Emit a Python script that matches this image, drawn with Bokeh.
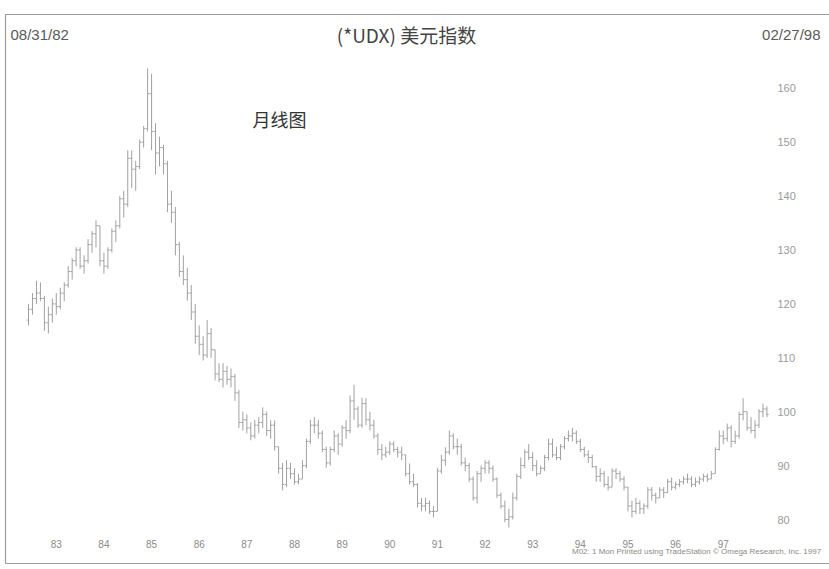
from bokeh.plotting import figure
from bokeh.models import Range1d, ColumnDataSource
from bokeh.core.properties import value
from bokeh.embed import file_html
from bokeh.resources import INLINE

# ---- data: US Dollar Index (*UDX) monthly bars, Aug 1982 .. Feb 1998 ----
start_label = "08/31/82"
end_label = "02/27/98"

opens = [
    117, 119, 121, 122, 121,
    116.5, 118, 120, 119.5, 122, 123.5, 126, 128, 130, 127, 128, 131,
    133, 134.5, 128, 127, 130, 133.5, 134.5, 139.5, 138.5, 147, 145, 145.5,
    150, 152.5, 159, 152, 148, 149, 146, 138.5, 137, 131, 126, 124.5,
    122, 118.5, 114, 112.5, 110.5, 114.5, 111.5, 107, 106, 107.5, 106, 106.5,
    103.5, 98, 98.5, 97, 95.5, 97.5, 98, 99.5, 96.5, 97.5, 93.5, 89.5,
    86.5, 89.5, 88.5, 87, 87.5, 90, 94.5, 97.5, 97.5, 96, 93, 90.5,
    93, 95.5, 94, 97, 96.5, 102, 100.5, 97.5, 101.5, 98.5, 97.5, 95.5,
    93, 92, 92.5, 94, 93, 92.5, 92, 88.5, 87, 86.5, 83, 82.5,
    83, 81.5, 81.5, 89, 91, 92.5, 95.5, 93.5, 93.5, 90.5, 90, 87.5,
    84, 88.5, 89.5, 90.5, 89.5, 87.5, 84.5, 82.5, 80, 80.5, 84, 88,
    90, 92.5, 91.5, 90, 88.5, 89.5, 91.5, 94, 92, 91.5, 93.5, 95,
    95.5, 96, 94.5, 93, 92, 91.5, 89.8, 88, 88.5, 86.5, 86, 89,
    88.5, 87.5, 86, 82.5, 81.5, 83, 82, 82.5, 85.5, 84.5, 84, 85.5,
    85, 87, 86, 86.5, 87, 87.5, 87.5, 86.5, 87, 87.5, 88, 87.5,
    88.5, 93, 95.5, 95, 97, 94.5, 95.5, 99.5, 100, 97, 96.5, 97.5,
    100, 100.5,
]
highs = [
    120, 122, 124.3, 124, 121.5,
    119.5, 121, 122, 123, 124, 127, 128.5, 130.5, 130.5, 129, 132, 133.5,
    135.5, 134.5, 129.5, 130.5, 134, 135.5, 140, 141, 148.5, 148.5, 146.5, 150.5,
    153, 163.7, 162.7, 153.5, 151, 149.5, 146.5, 141, 138, 131.5, 129, 126.7,
    123.5, 120, 116, 114, 117, 115.5, 111.5, 109, 109, 108.5, 108, 107,
    104, 100, 99.5, 98, 98.5, 99, 100.8, 100, 98.4, 98.4, 93.5, 90.5,
    91, 90.5, 89.5, 88.5, 91, 95, 98.5, 99, 98.5, 96.5, 93.5, 93.5,
    96.5, 96, 97.5, 98.4, 103, 105, 101, 102.6, 102.5, 100, 98.5, 96,
    94, 93.5, 94.5, 94.5, 93.5, 93.5, 92, 90.4, 88.5, 86.7, 84, 84,
    83.5, 82.5, 89.6, 92, 93.4, 96.5, 96, 95, 94, 91.5, 90.5, 88,
    89, 90, 91, 91, 90, 87.8, 85, 83.5, 82, 85, 88.5, 91.5,
    93, 94, 92.5, 91, 90, 92, 95, 95, 93.5, 94, 95.5, 96.5,
    97, 96.5, 95, 93.5, 92.8, 92, 90, 89.5, 89, 88, 89.5, 89.5,
    89, 88, 86, 83.5, 84, 83.5, 83, 86, 86, 85, 86, 86,
    87.5, 87.8, 87, 87.5, 88, 88.5, 88, 87.8, 88, 88.5, 88.5, 89,
    93.4, 96.5, 96.5, 97.8, 97.5, 96.5, 100, 102.5, 100, 99, 98.4, 100.5,
    101.5, 101,
]
lows = [
    116, 118, 120, 120.5, 115,
    114.5, 116.5, 118, 119, 120.5, 123, 124.5, 127, 126.5, 125.6, 127.5, 129.5,
    130.5, 127, 125.6, 126.5, 129.5, 131.5, 134, 136, 138, 141.5, 141, 145,
    149, 152, 148.5, 144, 145.5, 144, 137, 135, 129, 125, 123.5, 120.6,
    117, 112.6, 110.5, 109.5, 110, 110, 105.8, 105.5, 104.5, 105, 104.5, 102,
    97, 96.5, 96, 94.7, 95, 96, 97, 95.5, 95, 92.8, 88.5, 85.4,
    86, 87.5, 86.5, 86.5, 87.5, 89.5, 94, 96, 95, 92.5, 89.6, 90,
    92.5, 92, 93.5, 95, 96, 98.5, 97, 97, 97.5, 96.5, 95, 92,
    91, 91.5, 92, 92.5, 91.5, 91, 88, 86.5, 86, 82.2, 81.5, 81.5,
    81, 80.4, 81.5, 88.5, 90, 92, 93, 92, 90, 89, 87, 83.5,
    83, 87, 88.5, 88.5, 87, 84, 82, 79.5, 78.5, 80, 83.5, 87.5,
    89.5, 91, 89, 88, 88.5, 89, 91, 91.5, 91, 91, 93, 94.5,
    94.5, 94, 92.5, 91.5, 90.5, 89.6, 87, 87, 86, 85.4, 86, 87.5,
    87, 85.4, 81.5, 80.4, 81, 81, 81, 82, 83.5, 83, 84, 84,
    85, 85.4, 85.5, 86, 86.5, 86.7, 86, 86, 86.5, 87, 87, 87.5,
    88.5, 92.8, 94, 94.5, 93.4, 94, 95, 98.4, 96.5, 96, 95, 97,
    99, 99,
]
closes = [
    119, 121, 122, 121, 116.5,
    118, 120, 119.5, 122, 123.5, 126, 128, 130, 127, 128, 131, 133,
    134.5, 128, 127, 130, 133.5, 134.5, 139.5, 138.5, 147, 145, 145.5, 150,
    152.5, 159, 152, 148, 149, 146, 138.5, 137, 131, 126, 124.5, 122,
    118.5, 114, 112.5, 110.5, 114.5, 111.5, 107, 106, 107.5, 106, 106.5, 103.5,
    98, 98.5, 97, 95.5, 97.5, 98, 99.5, 96.5, 97.5, 93.5, 89.5, 86.5,
    89.5, 88.5, 87, 87.5, 90, 94.5, 97.5, 97.5, 96, 93, 90.5, 93,
    95.5, 94, 97, 96.5, 102, 100.5, 97.5, 101.5, 98.5, 97.5, 95.5, 93,
    92, 92.5, 94, 93, 92.5, 92, 88.5, 87, 86.5, 83, 82.5, 83,
    81.5, 81.5, 89, 91, 92.5, 95.5, 93.5, 93.5, 90.5, 90, 87.5, 84,
    88.5, 89.5, 90.5, 89.5, 87.5, 84.5, 82.5, 80, 80.5, 84, 88, 90,
    92.5, 91.5, 90, 88.5, 89.5, 91.5, 94, 92, 91.5, 93.5, 95, 95.5,
    96, 94.5, 93, 92, 91.5, 89.8, 88, 88.5, 86.5, 86, 89, 88.5,
    87.5, 86, 82.5, 81.5, 83, 82, 82.5, 85.5, 84.5, 84, 85.5, 85,
    87, 86, 86.5, 87, 87.5, 87.5, 86.5, 87, 87.5, 88, 87.5, 88.5,
    93, 95.5, 95, 97, 94.5, 95.5, 99.5, 100, 97, 96.5, 97.5, 100,
    100.5, 99.5,
]
year_labels = ["83", "84", "85", "86", "87", "88", "89", "90", "91", "92",
               "93", "94", "95", "96", "97"]
y_ticks = [80, 90, 100, 110, 120, 130, 140, 150, 160]
title_text = "(*UDX) 美元指数"
note_text = "月线图"
credit_text = "M02: 1 Mon  Printed using TradeStation \u00a9 Omega Research, Inc. 1997"

# ---- layout helpers (canvas pixel -> data coordinates) ----
W, H = 829, 569


def X(px):  # month index, Aug 1982 = 0
    return (px - 28) / 3.97


def Y(py):
    return 80 + (519 - py) / 5.39


idx = list(range(len(closes)))
src = ColumnDataSource(dict(
    i=idx, o=opens, h=highs, l=lows, c=closes,
    il=[k - 0.45 for k in idx], ir=[k + 0.45 for k in idx],
))

p = figure(width=W, height=H, output_backend="svg", toolbar_location=None,
           title=None, x_range=Range1d(X(0), X(W)), y_range=Range1d(Y(H), Y(0)),
           x_axis_location=None, y_axis_location=None,
           min_border=0, min_border_left=0, min_border_right=0,
           min_border_top=0, min_border_bottom=0)
p.outline_line_color = None
p.grid.visible = False
p.background_fill_color = "white"
p.border_fill_color = "white"

# printed frame of the chart page
p.segment(x0=[X(5), X(5), X(5)], y0=[Y(14), Y(14), Y(563)],
          x1=[X(829), X(5), X(829)], y1=[Y(14), Y(563), Y(563)],
          line_color="#9a9a9a", line_width=1.2)

# monthly OHLC bars
bar_color = "#a0a0a0"
p.segment(x0="i", y0="l", x1="i", y1="h", source=src, line_color=bar_color, line_width=1)
p.segment(x0="il", y0="o", x1="i", y1="o", source=src, line_color=bar_color, line_width=1)
p.segment(x0="i", y0="c", x1="ir", y1="c", source=src, line_color=bar_color, line_width=1)

# price scale (right) and year scale (bottom)
p.text(x=[X(777)] * len(y_ticks), y=y_ticks, text=[str(v) for v in y_ticks],
       text_align="left", text_baseline="middle", text_font=value("Liberation Sans"),
       text_font_size="11px", text_color="#9a9a9a")
x_tick_pos = [(int(y) - 83) * 12 + 7 for y in year_labels]
p.text(x=x_tick_pos, y=[Y(543)] * len(x_tick_pos), text=year_labels,
       text_align="center", text_baseline="middle", text_font=value("Liberation Sans"),
       text_font_size="10px", text_color="#8a8a8a")

# header and notes
p.text(x=[X(10)], y=[Y(34)], text=[start_label], text_align="left",
       text_baseline="middle", text_font=value("Liberation Sans"),
       text_font_size="15px", text_color="#5a5a5a")
p.text(x=[X(406)], y=[Y(34)], text=[title_text], text_align="center",
       text_baseline="middle", text_font=value("Noto Sans CJK SC"),
       text_font_size="19px", text_color="#444444")
p.text(x=[X(820)], y=[Y(34)], text=[end_label], text_align="right",
       text_baseline="middle", text_font=value("Liberation Sans"),
       text_font_size="15px", text_color="#5a5a5a")
p.text(x=[X(252)], y=[Y(118)], text=[note_text], text_align="left",
       text_baseline="middle", text_font=value("Noto Sans CJK SC"),
       text_font_size="18px", text_color="#333333")
p.text(x=[X(823)], y=[Y(551)], text=[credit_text], text_align="right",
       text_baseline="middle", text_font=value("Liberation Sans"),
       text_font_size="8px", text_color="#8a8a8a")

open("out.html", "w").write(file_html(p, INLINE))
